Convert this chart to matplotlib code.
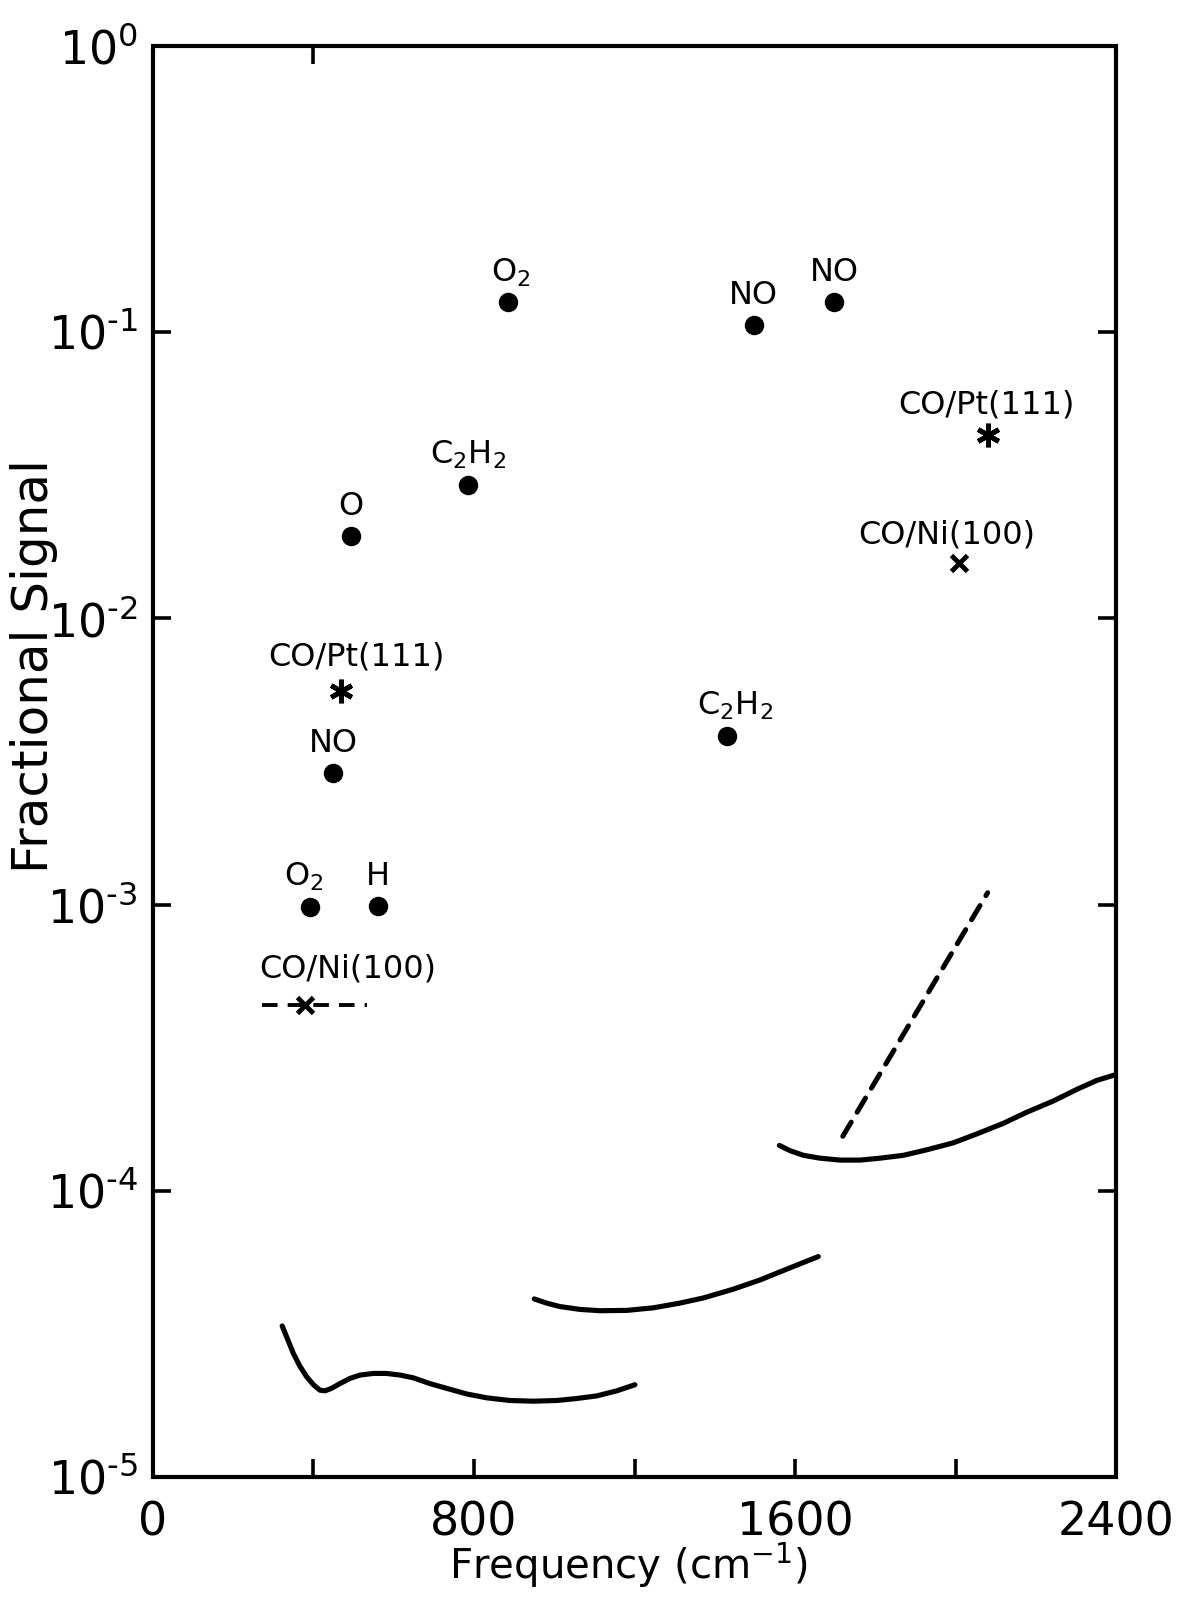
import matplotlib
matplotlib.use('Agg')
import matplotlib.pyplot as plt
from matplotlib.patches import Rectangle
from matplotlib.ticker import NullLocator

plt.rcParams['font.family'] = ['DejaVu Sans']
plt.rcParams['mathtext.fontset'] = 'dejavusans'

# ---------------- data ----------------
dot_labels = ['O$_2$', 'NO', 'NO', 'C$_2$H$_2$', 'O', 'NO', 'C$_2$H$_2$', 'O$_2$', 'H']
dot_x = [886, 1497, 1697, 786, 494, 449, 1430, 391, 561]
dot_y = [0.127, 0.106, 0.127, 0.0293, 0.0194, 0.00288, 0.00388, 0.00098, 0.00099]

star_labels = ['CO/Pt(111)', 'CO/Pt(111)']
star_x = [468, 2082]
star_y = [0.00559, 0.0437]

cross_labels = ['CO/Ni(100)', 'CO/Ni(100)']
cross_x = [379, 2009]
cross_y = [0.000446, 0.01557]

cross_range_x = [272, 533]          # dashed bar through the left CO/Ni(100) point
cross_range_y = [0.000446, 0.000446]

dash_x = [1719, 2080]
dash_y = [1.55e-4, 1.10e-3]

curve1_x = [322, 333, 350, 366, 383, 400, 416, 429, 445, 466, 491, 516, 549, 582, 616,
            649, 690, 732, 782, 832, 890, 948, 1006, 1056, 1106, 1156, 1201]
curve1_y = [3.37e-5, 3.09e-5, 2.70e-5, 2.44e-5, 2.24e-5, 2.10e-5, 2.01e-5, 2.00e-5, 2.04e-5,
            2.12e-5, 2.21e-5, 2.27e-5, 2.30e-5, 2.30e-5, 2.27e-5, 2.22e-5, 2.12e-5, 2.04e-5,
            1.95e-5, 1.89e-5, 1.85e-5, 1.84e-5, 1.85e-5, 1.88e-5, 1.92e-5, 2.00e-5, 2.10e-5]
curve2_x = [950, 981, 1014, 1064, 1114, 1181, 1247, 1313, 1371, 1446, 1513, 1579, 1658]
curve2_y = [4.19e-5, 4.05e-5, 3.94e-5, 3.85e-5, 3.81e-5, 3.82e-5, 3.90e-5, 4.05e-5, 4.22e-5,
            4.53e-5, 4.88e-5, 5.32e-5, 5.89e-5]
curve3_x = [1561, 1588, 1621, 1662, 1712, 1762, 1812, 1870, 1928, 1994, 2053, 2119, 2177,
            2244, 2302, 2352, 2397]
curve3_y = [1.44e-4, 1.38e-4, 1.33e-4, 1.30e-4, 1.28e-4, 1.28e-4, 1.30e-4, 1.33e-4, 1.39e-4,
            1.47e-4, 1.58e-4, 1.72e-4, 1.88e-4, 2.06e-4, 2.26e-4, 2.43e-4, 2.54e-4]

xtick_pos = [0, 400, 800, 1200, 1600, 2000, 2400]
xtick_labels = ['0', '', '800', '', '1600', '', '2400']
top_tick_pos = [400]
ytick_pos = [1e-5, 1e-4, 1e-3, 1e-2, 1e-1, 1e0]
H = '\u2010'
ytick_labels = [r'$\mathregular{10^{%s5}}$' % H, r'$\mathregular{10^{%s4}}$' % H,
                r'$\mathregular{10^{%s3}}$' % H, r'$\mathregular{10^{%s2}}$' % H,
                r'$\mathregular{10^{%s1}}$' % H, r'$\mathregular{10^{0}}$']

# label offsets (pixels) – styling only
dot_off = [(2, 21), (0, 21), (0, 21), (0, 21), (0, 21), (0, 21), (8, 21), (-6, 21), (0, 21)]
star_off = [(16, 25), (-2, 22)]
cross_off = [(43, 27), (-12, 20)]

# ---------------- figure ----------------
fig = plt.figure(figsize=(11.83, 16.14), dpi=100)
ax = fig.add_axes([0.1293, 0.0849, 0.9434 - 0.1293, 0.9715 - 0.0849])
ax.set_yscale('log')
ax.set_xlim(0, 2400)
ax.set_ylim(1e-5, 1)

lw_curve = 3.7
for cx, cy in [(curve1_x, curve1_y), (curve2_x, curve2_y), (curve3_x, curve3_y)]:
    ax.plot(cx, cy, color='black', lw=lw_curve, solid_capstyle='round', solid_joinstyle='round')

ax.plot(dash_x, dash_y, color='black', lw=3.6, dashes=(3.3, 2.3), dash_capstyle='round')
ax.plot(cross_range_x, cross_range_y, color='black', lw=2.8, dashes=(4.0, 2.6))

ax.plot(dot_x, dot_y, 'o', color='black', ms=13, zorder=5)
ax.plot(star_x, star_y, marker=(6, 2, 0), ls='none', color='black', ms=17, mew=3.5, zorder=5)
ax.plot(cross_x, cross_y, marker='x', ls='none', color='black', ms=11, mew=3.5, zorder=5)

def lab(texts, xs, ys, offs):
    for t, x, y, (dx, dy) in zip(texts, xs, ys, offs):
        ax.annotate(t, (x, y), xytext=(dx, dy), textcoords='offset pixels',
                    ha='center', va='baseline', fontsize=23)

lab(dot_labels, dot_x, dot_y, dot_off)
lab(star_labels, star_x, star_y, star_off)
lab(cross_labels, cross_x, cross_y, cross_off)

# tick labels (tick marks themselves are drawn below as short strokes)
ax.set_xticks(xtick_pos)
ax.set_xticklabels(xtick_labels, fontsize=33)
ax.set_yticks(ytick_pos)
ax.set_yticklabels(ytick_labels, fontsize=33)
ax.yaxis.set_minor_locator(NullLocator())
ax.xaxis.set_minor_locator(NullLocator())
ax.tick_params(axis='both', which='both', length=0)
ax.tick_params(axis='x', pad=17)
ax.tick_params(axis='y', pad=11)

# frame drawn as a rectangle instead of spines
for s in ax.spines.values():
    s.set_visible(False)
ax.add_patch(Rectangle((0, 0), 1, 1, transform=ax.transAxes, fill=False,
                       edgecolor='black', linewidth=3, clip_on=False, zorder=7))

# inward tick strokes
tick_kw = dict(colors='black', linewidth=2.6, clip_on=False, zorder=7)
ax.hlines(ytick_pos, 0, 0.0187, transform=ax.get_yaxis_transform(), **tick_kw)
ax.hlines(ytick_pos, 1 - 0.0187, 1, transform=ax.get_yaxis_transform(), **tick_kw)
ax.vlines(xtick_pos, 0, 0.0126, transform=ax.get_xaxis_transform(), **tick_kw)
ax.vlines(top_tick_pos, 1 - 0.0126, 1, transform=ax.get_xaxis_transform(), **tick_kw)
ax.set_xlim(0, 2400)
ax.set_ylim(1e-5, 1)

ax.set_ylabel('Fractional Signal', fontsize=36)
ax.yaxis.set_label_coords(-0.1235, 0.567)
ax.yaxis.label.set_va('center')
ax.set_xlabel('Frequency (cm$^{-1}$)', fontsize=29)
ax.xaxis.set_label_coords(0.494, -0.0615)
ax.xaxis.label.set_va('center')

fig.canvas.draw()
fig.savefig('out.png', dpi=100)
